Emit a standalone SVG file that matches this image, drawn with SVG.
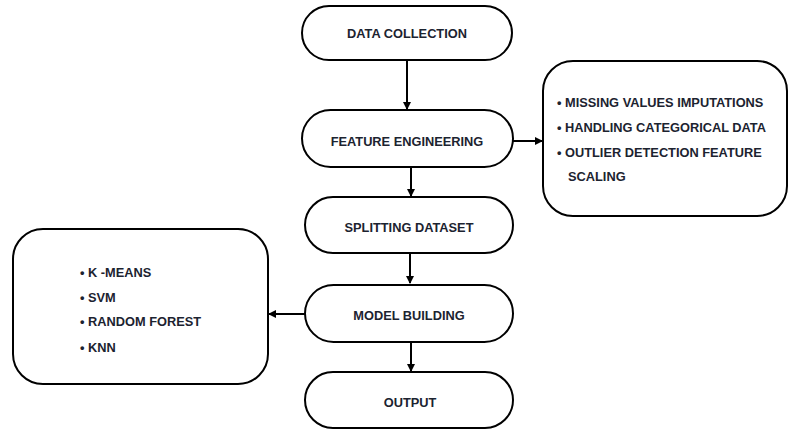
<svg xmlns="http://www.w3.org/2000/svg" width="789" height="429" viewBox="0 0 789 429">
<style>
.n{fill:#fff;stroke:#000;stroke-width:2}
.t{font-family:"Liberation Sans",Arial,sans-serif;font-weight:bold;font-size:12.8px;fill:#1c2330}
.c{text-anchor:middle}
.e{stroke:#000;stroke-width:2;fill:none}
</style>
<defs>
<marker id="a" markerWidth="8" markerHeight="8" refX="7" refY="4" orient="auto" markerUnits="userSpaceOnUse">
<path d="M0,0 L8,4 L0,8 Z" fill="#000"/>
</marker>
</defs>
<rect width="789" height="429" fill="#fff"/>
<g id="connectors">
<line class="e" x1="407" y1="60" x2="407" y2="109" marker-end="url(#a)"/>
<line class="e" x1="411" y1="167" x2="411" y2="196" marker-end="url(#a)"/>
<line class="e" x1="410" y1="253" x2="410" y2="283" marker-end="url(#a)"/>
<line class="e" x1="411" y1="342" x2="411" y2="371" marker-end="url(#a)"/>
<line class="e" x1="513" y1="141" x2="542" y2="141" marker-end="url(#a)"/>
<line class="e" x1="305" y1="314" x2="269" y2="314" marker-end="url(#a)"/>
</g>
<g id="data-collection">
<rect class="n" x="302" y="6" width="210" height="54" rx="27"/>
<text class="t c" x="407" y="38">DATA COLLECTION</text>
</g>
<g id="feature-engineering">
<rect class="n" x="302" y="110" width="211" height="57" rx="28.5"/>
<text class="t c" x="407" y="146">FEATURE ENGINEERING</text>
</g>
<g id="splitting-dataset">
<rect class="n" x="305" y="197" width="208" height="56" rx="28"/>
<text class="t c" x="409" y="232">SPLITTING DATASET</text>
</g>
<g id="model-building">
<rect class="n" x="305" y="285" width="208" height="57" rx="28.5"/>
<text class="t c" x="409" y="320">MODEL BUILDING</text>
</g>
<g id="output">
<rect class="n" x="305" y="372" width="208" height="56" rx="28"/>
<text class="t c" x="410" y="407">OUTPUT</text>
</g>
<g id="preprocessing-list">
<rect class="n" x="543" y="61" width="244" height="155" rx="30"/>
<text class="t" x="557" y="107">• MISSING VALUES IMPUTATIONS</text>
<text class="t" x="557" y="132">• HANDLING CATEGORICAL DATA</text>
<text class="t" x="557" y="157">• OUTLIER DETECTION FEATURE</text>
<text class="t" x="568" y="181">SCALING</text>
</g>
<g id="models-list">
<rect class="n" x="13" y="229" width="255" height="155" rx="30"/>
<text class="t" x="80" y="277">• K -MEANS</text>
<text class="t" x="80" y="302">• SVM</text>
<text class="t" x="80" y="326">• RANDOM FOREST</text>
<text class="t" x="80" y="352">• KNN</text>
</g>
</svg>
